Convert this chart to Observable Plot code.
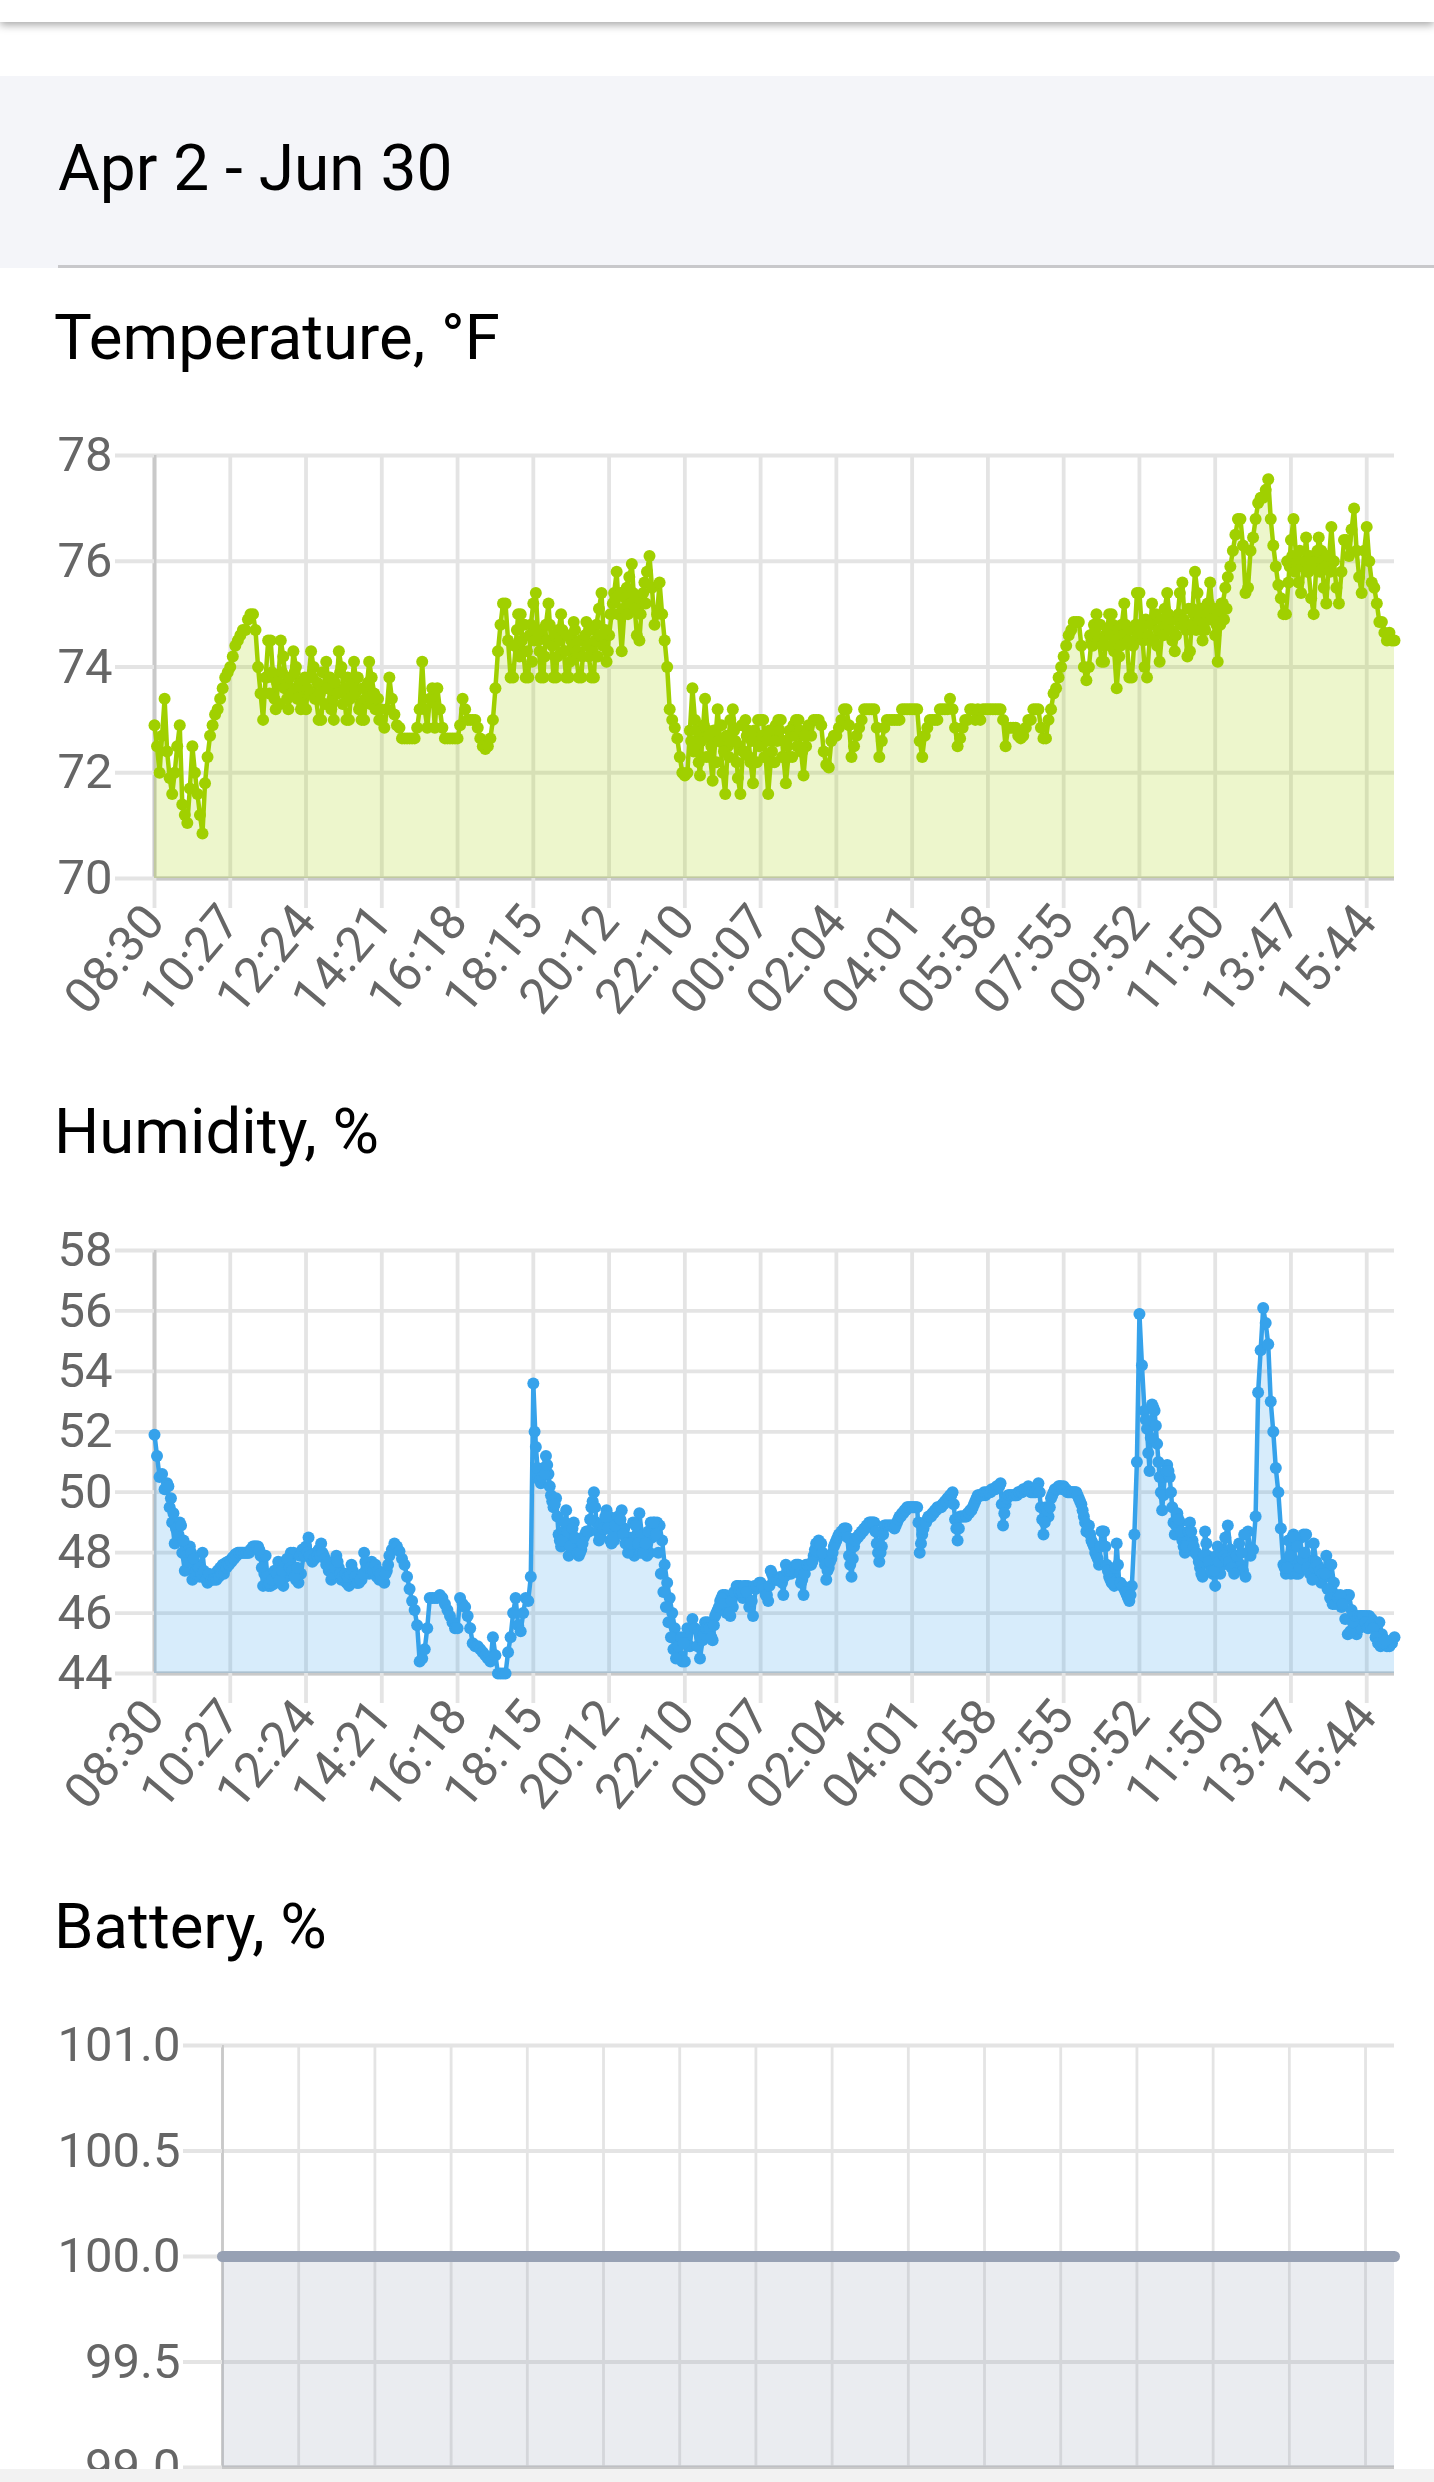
<!DOCTYPE html>
<html><head><meta charset="utf-8">
<script src="https://cdn.jsdelivr.net/npm/d3@7"></script>
<script src="https://cdn.jsdelivr.net/npm/@observablehq/plot@0.6"></script>
<style>
html,body{margin:0;padding:0;background:#fff;width:1434px;height:2482px;overflow:hidden;font-family:Roboto,sans-serif}
.abs{position:absolute}
.h{position:absolute;color:#000;font-family:Roboto,sans-serif;line-height:1;white-space:nowrap}
svg{display:block;overflow:visible}
</style></head><body>
<div class="abs" style="left:0;top:0;width:1434px;height:22px;background:#fff;box-shadow:0 3px 9px rgba(0,0,0,.35)"></div>
<div class="abs" style="left:0;top:76px;width:1434px;height:192px;background:#f4f5f9"></div>
<div class="abs" style="left:58px;top:265px;width:1376px;height:3px;background:#c8c8cb"></div>
<div class="h" style="left:58px;top:137px;font-size:64px">Apr 2 - Jun 30</div>
<div class="h" style="left:54px;top:306px;font-size:63.5px">Temperature, °F</div>
<div class="h" style="left:54px;top:1100px;font-size:63.5px">Humidity, %</div>
<div class="h" style="left:54px;top:1895px;font-size:63.5px">Battery, %</div>
<div id="c1" class="abs" style="left:0;top:420px"></div>
<div id="c2" class="abs" style="left:0;top:1220px"></div>
<div id="c3" class="abs" style="left:0;top:2010px"></div>
<div class="abs" style="left:0;top:2469px;width:1434px;height:13px;background:#f2f2f2"></div>
<script>
const timeLabels=["08:30","10:27","12:24","14:21","16:18","18:15","20:12","22:10","00:07","02:04","04:01","05:58","07:55","09:52","11:50","13:47","15:44"];
const temperatureTicks=[70,72,74,76,78];
const humidityTicks=[44,46,48,50,52,54,56,58];
const batteryTicks=[99,99.5,100,100.5,101];
const samplesPerTick=30;
const temperature=[
72.9,72.5,72.0,72.7,73.4,72.4,71.9,71.6,72.0,72.5,72.9,71.4,71.2,71.05,71.7,72.5,72.0,71.6,71.2,70.85,71.8,72.3,72.7,72.9,73.1,73.2,73.4,73.6,73.8,73.9,
74.0,74.2,74.4,74.5,74.6,74.7,74.7,74.9,75.0,75.0,74.7,74.0,73.5,73.0,73.8,74.5,74.5,73.8,73.2,73.7,74.5,74.2,73.7,73.2,73.6,74.3,74.0,73.6,73.2,73.6,
73.2,73.8,74.3,74.0,73.4,73.0,73.0,73.6,74.1,73.6,73.2,73.0,73.6,74.3,74.0,73.5,73.0,73.0,73.6,74.1,73.6,73.2,73.0,73.0,73.6,74.1,73.8,73.5,73.2,73.0,
73.0,72.85,73.2,73.8,73.4,73.1,72.9,72.85,72.65,72.65,72.65,72.65,72.65,72.65,72.85,73.2,74.1,73.2,72.85,73.4,73.6,72.85,73.6,73.2,72.85,72.65,72.65,72.65,72.65,72.65,
72.65,72.9,73.4,73.2,73.0,73.0,73.0,73.0,72.85,72.65,72.5,72.45,72.5,72.65,73.0,73.6,74.3,74.8,75.2,75.2,74.5,73.8,73.8,74.4,75.0,75.0,74.3,73.8,73.8,74.8,
75.2,75.4,74.5,73.8,73.8,74.8,75.2,74.5,73.8,73.8,74.7,75.0,74.3,73.8,73.8,74.5,74.85,74.2,73.8,73.8,74.5,74.85,74.2,73.8,73.8,74.8,75.1,75.4,74.5,74.1,
74.6,75.0,75.4,75.8,75.0,74.3,75.0,75.5,75.7,75.95,75.2,74.6,74.5,75.2,75.6,75.8,76.1,75.5,74.8,75.0,75.6,75.0,74.5,74.0,73.2,73.0,72.85,72.65,72.3,72.0,
71.95,72.0,72.8,73.6,73.0,72.4,71.95,72.7,73.4,72.8,72.3,71.85,72.6,73.2,72.6,72.0,71.6,72.5,73.0,73.2,72.6,71.9,71.6,72.4,73.0,72.8,72.2,71.8,72.6,73.0,
73.0,73.0,72.3,71.6,72.2,72.7,72.9,73.0,73.0,72.3,71.8,72.3,72.7,72.9,73.0,73.0,72.4,71.95,72.5,72.9,72.7,73.0,73.0,73.0,72.9,72.4,72.15,72.1,72.6,72.7,
72.7,72.85,73.0,73.2,73.2,72.9,72.3,72.5,72.7,72.85,73.0,73.2,73.2,73.2,73.2,73.2,72.85,72.3,72.6,72.85,73.0,73.0,73.0,73.0,73.0,73.0,73.2,73.2,73.2,73.2,
73.2,73.2,73.2,72.6,72.3,72.7,72.85,73.0,73.0,73.0,73.0,73.2,73.2,73.2,73.2,73.4,73.2,72.85,72.5,72.65,72.85,73.0,73.0,73.2,73.2,73.0,73.2,73.0,73.2,73.2,
73.2,73.2,73.2,73.2,73.2,73.2,73.0,72.5,72.85,72.85,72.85,72.85,72.7,72.65,72.7,72.85,73.0,73.0,73.2,73.2,73.2,72.85,72.65,72.65,73.0,73.2,73.5,73.6,73.8,74.0,
74.2,74.4,74.6,74.7,74.85,74.85,74.85,74.4,74.0,73.75,74.0,74.5,74.8,75.0,74.5,74.1,74.1,74.6,75.0,75.0,74.3,73.6,74.2,74.8,75.2,74.5,73.8,73.8,74.5,75.4,
75.4,74.7,74.0,73.8,74.5,75.2,74.9,74.4,74.1,74.7,75.1,75.4,74.9,74.5,74.3,74.9,75.4,75.6,74.8,74.2,74.3,75.1,75.8,75.4,74.9,74.5,74.7,75.2,75.6,75.0,
74.6,74.1,74.8,75.2,75.5,75.7,75.9,76.2,76.5,76.8,76.8,76.3,75.4,75.5,76.2,76.45,76.8,77.1,77.2,77.2,77.35,77.55,76.8,76.3,75.9,75.55,75.3,75.0,75.0,75.6,
76.4,76.8,76.1,75.6,75.4,75.9,76.45,75.8,75.3,75.0,75.9,76.45,76.2,75.5,75.2,76.0,76.65,76.0,75.5,75.2,75.8,76.4,76.4,76.1,76.6,77.0,76.2,75.7,75.4,76.2,
76.65,76.0,75.6,75.5,75.2,74.85,74.85,74.65,74.5,74.65,74.5,74.5
];
const humidity=[
51.9,51.2,50.5,50.6,50.1,50.3,49.5,49.0,48.3,48.8,49.0,48.0,47.4,47.9,48.2,47.1,47.3,47.6,47.2,48.0,47.2,47.0,47.1,47.2,47.3,47.4,47.5,47.6,47.65,47.7,
47.75,47.85,47.95,48.0,48.0,48.0,48.0,48.0,48.1,48.2,48.2,48.2,47.9,46.9,47.9,46.9,46.9,46.95,47.3,47.7,47.2,46.9,47.2,47.6,48.0,48.0,47.1,47.0,47.3,47.9,
48.2,48.5,47.8,47.9,48.0,48.1,48.3,47.9,47.6,47.4,47.1,47.6,47.9,47.5,47.1,47.2,47.0,46.9,47.6,47.1,47.0,47.0,47.1,48.0,47.6,47.3,47.7,47.5,47.2,47.1,
47.1,47.0,47.4,47.9,48.1,48.3,48.2,48.05,47.8,47.6,47.2,46.8,46.4,46.1,45.6,44.4,44.5,44.8,45.5,46.5,46.5,46.5,46.5,46.6,46.5,46.3,46.1,45.9,45.7,45.5,
45.5,46.5,46.3,46.2,45.9,45.5,45.0,44.9,44.9,44.8,44.7,44.6,44.5,44.4,45.2,44.6,44.0,44.0,44.0,44.0,44.7,45.2,46.0,46.5,45.6,45.4,46.0,46.5,46.4,47.2,
53.6,51.5,50.5,50.3,50.8,51.2,50.6,49.9,49.5,49.8,48.6,48.2,48.7,49.4,47.9,48.6,49.0,48.1,47.9,48.1,48.5,48.7,48.7,49.5,50.0,49.0,48.4,48.7,49.0,49.4,
49.2,48.3,48.4,48.7,49.0,49.4,48.8,48.5,48.5,48.2,47.9,48.6,49.3,48.6,48.1,47.9,48.0,48.5,49.0,49.0,48.9,48.4,47.6,47.0,46.5,46.0,45.5,45.0,44.6,44.4,
44.4,45.5,44.9,45.8,45.5,44.9,44.5,45.1,45.7,45.7,45.3,45.1,45.9,46.1,46.4,46.6,46.6,46.1,45.9,46.2,46.6,46.9,46.9,46.5,46.9,46.9,46.4,45.9,46.8,46.9,
47.0,46.9,46.6,46.4,47.4,47.2,47.1,47.1,47.2,46.6,47.6,47.3,47.3,47.4,47.6,47.6,47.0,46.6,47.6,47.6,47.6,47.9,48.3,48.4,48.3,47.8,47.1,47.5,47.8,48.2,
48.4,48.6,48.7,48.8,48.8,47.9,47.2,48.2,48.5,48.6,48.7,48.8,48.9,49.0,49.0,49.0,48.3,47.7,48.2,48.9,48.9,48.9,48.9,48.8,49.0,49.2,49.3,49.4,49.5,49.5,
49.5,49.5,49.5,48.0,48.6,49.0,49.1,49.2,49.3,49.4,49.5,49.5,49.6,49.7,49.8,49.9,50.0,49.1,48.4,49.2,49.2,49.2,49.3,49.4,49.5,49.7,49.9,49.9,49.9,49.9,
50.0,50.0,50.1,50.1,50.2,50.3,48.9,49.6,49.9,49.9,49.9,49.9,50.0,50.0,50.1,50.1,50.2,50.0,50.0,50.0,50.3,49.5,48.6,49.5,49.2,49.8,50.0,50.1,50.2,50.2,
50.2,50.1,50.0,50.0,50.0,50.0,49.8,49.6,49.2,48.7,48.9,48.4,48.2,47.9,47.6,48.7,48.7,47.6,47.2,47.0,46.9,48.3,47.0,46.9,46.8,46.6,46.4,46.9,48.6,51.0,
55.9,54.2,52.7,52.1,50.7,52.9,52.7,51.6,50.5,49.4,50.5,50.9,50.5,49.5,48.6,49.3,49.0,48.4,48.0,48.5,49.0,48.4,48.0,47.9,47.5,47.2,48.7,47.9,47.6,47.3,
46.9,48.2,47.3,47.6,48.5,48.9,48.1,47.9,47.8,47.7,47.6,47.4,47.2,48.7,47.9,48.1,49.2,53.3,54.7,56.1,55.6,54.9,53.0,52.0,50.8,50.0,48.8,47.6,47.3,48.4,
47.3,48.6,47.3,47.3,48.5,48.6,48.6,47.7,47.4,48.3,47.7,47.2,47.0,47.2,47.9,47.2,47.6,47.0,46.6,46.5,46.2,46.4,46.6,46.6,46.1,45.4,45.3,45.5,45.9,45.9,
45.9,45.9,45.8,45.5,45.5,45.7,45.3,45.1,44.9,44.9,45.0,45.2
];
// further readings inside the solid bands of dots, between the samples above: [first index, values]
const temperatureBands=[
[44.5,[73.8,73.5,73.9,73.4,73.7,73.3,73.9,73.6,73.4,73.8,73.5,73.9,73.4,73.7,73.3,73.8,73.6,73.5,73.8,73.4,73.7,73.5,73.9,73.3,73.6,73.8,73.4,73.7,73.5,73.9,73.3,73.6,73.8,73.4,73.7,73.5,73.8,73.3,73.6,73.4,73.7,73.3,73.5,73.2,73.4,73.2]],
[142.5,[74.4,74.7,74.2,74.5,74.8,74.3,74.6,74.1,74.5,74.7,74.3,74.6,74.2,74.5,74.8,74.4,74.6,74.2,74.5,74.7,74.3,74.6,74.1,74.4,74.7,74.3,74.5,74.2,74.6,74.4,74.7,74.3,74.5,74.2,74.6,74.4,74.7,74.3,75.0,75.2,75.3,75.0,75.4,75.1,75.3,75.0,75.2,75.4,75.1,75.3,75.0,75.4,75.2]],
[212.5,[72.6,72.4,72.8,72.2,72.6,72.9,72.3,72.7,72.5,72.8,72.2,72.6,72.9,72.4,72.7,72.3,72.6,72.8,72.2,72.5,72.9,72.4,72.7,72.3,72.6,72.8,72.2,72.5,72.7,72.3,72.6,72.8,72.4,72.2,72.6,72.8,72.3,72.6,72.5,72.8,72.3,72.7,72.5,72.8,72.4,72.7]],
[370.5,[74.6,74.4,74.7,74.5,74.8,74.4,74.6,74.7,74.4,74.8,74.5,74.7,74.4,74.6,74.8,74.5,74.7,74.4,74.8,74.6,74.8,74.5,74.9,74.6,74.8,74.5,75.0,74.7,74.9,74.6,74.8,75.0,74.7,74.9,74.6,75.0,74.8,74.9,74.7,75.1,74.8,75.0,74.7,74.9,75.1,74.8,75.0,75.2,74.9,75.1,74.8,75.0,75.2,74.9,75.1]],
[448.5,[76.0,75.9,76.1,75.8,76.0,76.2,75.9,76.0,75.8,76.1,75.9,76.0,76.2,75.8,76.0,75.9,76.1,75.8]]
];
const humidityBands=[
[5.5,[50.2,49.8,49.3,48.8,48.6,48.9,48.4,47.9,47.7,48.0,47.8,47.4,47.5,47.3,47.4,47.1,47.3,47.1,47.1,47.1,47.2,47.3,47.3,47.5,47.6,47.7,47.8,47.9,48.0,48.0,48.0,48.0,48.0,48.1,48.2,48.2,48.1,47.5,47.3,47.2,47.0,47.1,47.4,47.3,47.1,47.4,47.7,47.8,47.5,47.4,47.2,47.5,47.9,48.1,47.9]],
[60.5,[48.0,47.9,47.7,47.8,47.9,47.9,48.0,47.8,47.7,47.5,47.3,47.5,47.7,47.3,47.2,47.3,47.2,47.3,47.4,47.2,47.0,47.1,47.3,47.7,47.5,47.5,47.4,47.6,47.4,47.3,47.1,47.3,47.6]],
[150.5,[52.0,50.8,50.4,50.5,50.6,50.9,50.2,49.7,49.6,49.2,48.4,48.4,49.0,48.7,48.2,48.8,48.5,48.0,48.0,48.3,48.6,48.7,49.1,49.7,49.5,48.7,48.5,48.8,49.2,48.8,48.4,48.5,48.9,49.2,49.1,48.6,48.3,48.0,48.3,49.0,48.9,48.3,48.0,48.0,48.3]],
[195.5,[48.7,49.0,49.0,48.6,48.0,47.3,46.7,46.2,45.7,45.2,44.8,44.5,44.9,45.2,45.0]],
[215.5,[45.4,45.2,45.3,45.5,45.5,45.2,45.6,46.0,46.2,46.5,46.3,46.0,46.0,46.4,46.7,46.9,46.7,46.7,46.9,46.7,46.2,46.4,46.9,46.9,47.0]],
[240.5,[46.9,46.8,46.6,46.9,47.3,47.1,47.1,47.1,47.0,47.2,47.4,47.4,47.4,47.5,47.6,47.3,47.1,47.3,47.6,47.6,47.7,48.1,48.3,48.3,48.0,47.6,47.4,47.7,48.0,48.3]],
[270.5,[48.5,48.6,48.7,48.8,48.5,47.6,47.8,48.4,48.5,48.6,48.7,48.8,48.9,49.0,49.0,48.7,48.0,48.0,48.6,48.9,48.9,48.9,48.9,48.9,49.1,49.2,49.3,49.4,49.5,49.5]],
[300.5,[49.5,49.5,49.0,48.3,48.8,49.0,49.2,49.2,49.3,49.4,49.5,49.5,49.6,49.7,49.8,49.9,49.6,48.8,48.8,49.2,49.2,49.2,49.3,49.4,49.6,49.8,49.9,49.9,50.0,50.0]],
[330.5,[50.0,50.1,50.1,50.2,50.2,49.6,49.3,49.8,49.9,49.9,49.9,49.9,50.0,50.0,50.1,50.1,50.1,50.0,50.0,50.1,50.0,49.1,49.0,49.4,49.5,49.9,50.1,50.1,50.2,50.1]],
[360.5,[50.1,50.0,50.0,50.0,50.0,49.9,49.7,49.4,49.0,48.8,48.6,48.3,48.0,47.8,48.2,48.7,48.2,47.4,47.1,47.0,47.5,47.6,47.0,46.9,46.7,46.5,46.6]],
[392.5,[52.4,51.3,51.8,52.8,52.2,51.0,50.0,49.9,50.7,50.7,50.0,49.0,48.9,49.1,48.7,48.2,48.2,48.7,48.7,48.2,48.0,47.7,47.3,47.9,48.3,47.7,47.4,47.4,47.9,47.7]],
[422.5,[48.0,47.9,47.8,47.7,47.5,47.3,47.9,48.3,48.0,48.6]],
[447.5,[47.5,47.5,47.9,48.5,48.5,48.2,47.5,47.8,48.0,47.5,47.3,47.1,47.5,47.6,47.4,47.3,47.3,46.8,46.5,46.3,46.3,46.5,46.6,46.3,45.8,45.3,45.4,45.7,45.9,45.9,45.9,45.9,45.7,45.5,45.6,45.5,45.2,45.0,44.9,45.0,45.1]]
];
const batteryLevel=[100,100,100,100,100,100,100,100,100,100,100,100,100,100,100,100,100];
const batteryStep=[0,1,2,3,4,5,6,7,8,9,10,11,12,13,14,15,15.38];

const gridColor="#e4e4e4", frameColor="#c9c9c9", tickColor="#666";

function chart(id,o){
  const xs=o.xTicks;
  const plot=Plot.plot({
    width:1434,height:o.height,
    marginLeft:o.left,marginRight:40,marginTop:o.top,marginBottom:o.bottom,
    style:{fontFamily:"Roboto, sans-serif",background:"transparent",overflow:"visible"},
    x:{domain:o.xDomain},
    y:{domain:o.yDomain},
    marks:[
      Plot.gridX(xs,{stroke:gridColor,strokeOpacity:1,strokeWidth:o.vw}),
      Plot.gridY(o.yTicks,{stroke:gridColor,strokeOpacity:1,strokeWidth:3.8}),
      Plot.ruleX([o.xDomain[0]],{stroke:frameColor,strokeWidth:o.vw}),
      Plot.ruleY([o.yDomain[0]],{stroke:frameColor,strokeWidth:3.8}),
      Plot.areaY(o.rows,{x:"i",y1:o.yDomain[0],y2:"v",fill:o.fill,fillOpacity:1,curve:"linear"}),
      ...(o.xFormat?[Plot.axisX(xs,{tickSize:30,strokeWidth:o.vw,stroke:gridColor,tickRotate:-50,tickPadding:4,fontSize:49.5,fill:tickColor,label:null,tickFormat:o.xFormat})]:[]),
      Plot.axisY(o.yTicks,{tickSize:39,tickPadding:3,strokeWidth:3.8,stroke:gridColor,fontSize:49,fill:tickColor,label:null,tickFormat:o.yFormat}),
      Plot.lineY(o.rows,{x:"i",y:"v",stroke:o.color,strokeWidth:o.lw,strokeLinecap:"round"}),
      ...(o.dots?[Plot.dot(o.rows,{x:"i",y:"v",r:6,fill:o.color,stroke:"none"}),
                  Plot.dot(o.bandRows,{x:"i",y:"v",r:6,fill:o.color,stroke:"none"})]:[])
    ]
  });
  document.getElementById(id).appendChild(plot);
}
const idxRows=a=>a.map((v,i)=>({i,v}));
const bandRows=b=>b.flatMap(([s,vals])=>vals.map((v,k)=>({i:s+k,v})));
const idxTicks=timeLabels.map((_,k)=>k*samplesPerTick);
const fmtIdx=i=>timeLabels[i/samplesPerTick];
chart("c1",{height:620,top:35,bottom:162,left:154,vw:3.8,lw:4.5,dots:true,rows:idxRows(temperature),bandRows:bandRows(temperatureBands),xDomain:[0,491],yDomain:[70,78],xTicks:idxTicks,yTicks:temperatureTicks,xFormat:fmtIdx,yFormat:d=>d,color:"#a0d000",fill:"rgba(163,208,0,0.2)"});
chart("c2",{height:623,top:30,bottom:170,left:154,vw:3.8,lw:4.5,dots:true,rows:idxRows(humidity),bandRows:bandRows(humidityBands),xDomain:[0,491],yDomain:[44,58],xTicks:idxTicks,yTicks:humidityTicks,xFormat:fmtIdx,yFormat:d=>d,color:"#36a2eb",fill:"rgba(54,162,235,0.2)"});
chart("c3",{height:472,top:35,bottom:15,left:222,vw:2.8,lw:11,dots:false,rows:batteryLevel.map((v,k)=>({i:batteryStep[k],v})),xDomain:[0,15.38],yDomain:[99,101],xTicks:batteryStep.slice(0,16),yTicks:batteryTicks,xFormat:null,yFormat:d=>d.toFixed(1),color:"#97a1b4",fill:"rgba(151,161,180,0.2)"});
</script>
</body></html>
